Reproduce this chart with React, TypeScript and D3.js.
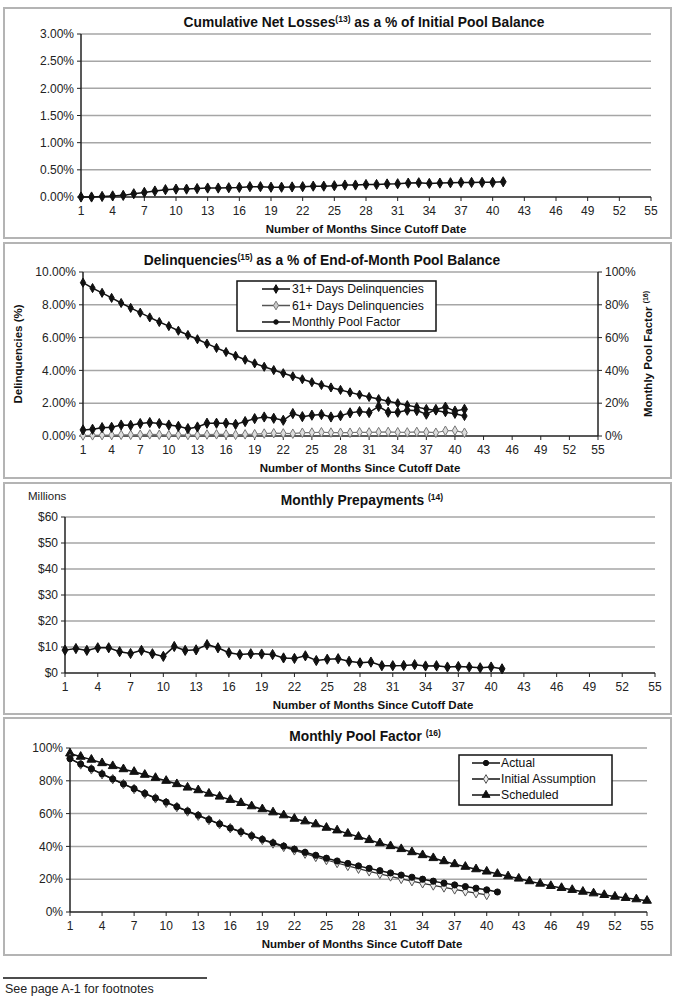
import { useEffect, useRef } from 'react';
import * as d3 from 'd3';

// month tick labels shared by every panel
const monthTicks = [1, 4, 7, 10, 13, 16, 19, 22, 25, 28, 31, 34, 37, 40, 43, 46, 49, 52, 55];

// Cumulative net losses, % of initial pool balance (months 1-41)
const cumNetLoss = [0.0, 0.0, 0.01, 0.02, 0.03, 0.06, 0.085, 0.11, 0.135, 0.145, 0.145, 0.155, 0.165, 0.165, 0.17, 0.177, 0.19, 0.19, 0.18, 0.18, 0.185, 0.19, 0.2, 0.2, 0.207, 0.22, 0.22, 0.23, 0.23, 0.24, 0.244, 0.256, 0.262, 0.25, 0.256, 0.262, 0.268, 0.268, 0.27, 0.27, 0.28];
const lossTicks = [0, 0.5, 1, 1.5, 2, 2.5, 3];

// Delinquencies, % of end-of-month pool balance
const delinq31 = [0.37, 0.41, 0.51, 0.53, 0.67, 0.65, 0.76, 0.82, 0.76, 0.67, 0.59, 0.45, 0.55, 0.78, 0.78, 0.78, 0.71, 0.88, 1.06, 1.16, 1.08, 0.96, 1.37, 1.18, 1.27, 1.31, 1.16, 1.24, 1.41, 1.49, 1.43, 1.8, 1.45, 1.45, 1.57, 1.55, 1.33, 1.62, 1.76, 1.52, 1.63];
const delinq61 = [0.03, 0.04, 0.05, 0.06, 0.07, 0.07, 0.08, 0.1, 0.08, 0.05, 0.07, 0.06, 0.05, 0.09, 0.1, 0.1, 0.07, 0.1, 0.11, 0.15, 0.17, 0.16, 0.14, 0.2, 0.21, 0.23, 0.21, 0.2, 0.2, 0.23, 0.22, 0.24, 0.25, 0.23, 0.22, 0.25, 0.24, 0.2, 0.32, 0.33, 0.2];
const delinqTicks = [0, 2, 4, 6, 8, 10];

// Monthly prepayments, $ millions
const prepayments = [8.8, 9.4, 8.7, 9.7, 9.7, 8.2, 7.5, 8.7, 7.4, 6.4, 10.2, 8.7, 8.9, 10.9, 9.7, 7.8, 7.1, 7.4, 7.3, 7.1, 5.8, 5.6, 6.6, 4.8, 5.3, 5.5, 4.5, 3.9, 4.2, 2.8, 2.8, 2.9, 3.2, 2.7, 2.8, 2.3, 2.5, 2.3, 2.0, 2.3, 1.6];
const prepayTicks = [0, 10, 20, 30, 40, 50, 60];

// Monthly pool factor, %
const poolActual = [93.5, 90.2, 87.3, 84.2, 81.1, 78.1, 75.2, 72.3, 69.5, 67.0, 64.2, 61.6, 59.0, 56.3, 53.7, 51.2, 48.9, 46.5, 44.3, 42.2, 40.2, 38.3, 36.4, 34.6, 32.8, 31.1, 29.6, 28.1, 26.6, 25.2, 23.8, 22.5, 21.2, 20.0, 18.8, 17.6, 16.5, 15.5, 14.5, 13.5, 12.2];
const poolAssumption = [93.5, 90.0, 87.0, 84.0, 81.0, 78.0, 75.0, 72.1, 69.3, 66.6, 64.0, 61.3, 58.7, 56.1, 53.6, 51.1, 48.7, 46.3, 44.0, 41.8, 39.7, 37.6, 35.6, 33.6, 31.7, 29.9, 28.1, 26.4, 24.8, 23.2, 21.7, 20.2, 18.8, 17.5, 16.2, 15.0, 13.8, 12.6, 11.5, 10.4];
const poolScheduled = [96.7, 94.7, 92.9, 90.8, 89.0, 87.1, 85.5, 83.7, 81.8, 80.0, 78.0, 75.9, 74.3, 72.2, 70.4, 68.4, 66.5, 64.5, 62.7, 60.8, 59.0, 56.9, 55.3, 53.5, 51.4, 49.8, 47.8, 45.9, 43.9, 42.0, 40.2, 38.4, 36.5, 34.7, 32.9, 31.0, 29.2, 27.6, 26.1, 24.7, 23.3, 21.8, 20.4, 18.8, 17.3, 15.9, 14.7, 13.5, 12.4, 11.4, 10.4, 9.4, 8.6, 7.8, 6.9];
const poolTicks = [0, 20, 40, 60, 80, 100];

const FONT = "'Liberation Sans', Arial, sans-serif";
const GRID = '#a6a6a6';

export default function App() {
  const svgRef = useRef<SVGSVGElement>(null);

  useEffect(() => {
    if (!svgRef.current) return;
    const svg = d3.select(svgRef.current);
    svg.selectAll('*').remove();
    svg.style('font-family', FONT);

    // one framed chart panel: border, grid, axes, titles
    const panel = (o: any) => {
      svg.append('rect')
        .attr('x', 4).attr('y', o.top).attr('width', 667).attr('height', o.height)
        .attr('fill', 'white').attr('stroke', '#b4b4b4').attr('stroke-width', 2);

      const x = d3.scaleLinear().domain([1, 55]).range([o.left, o.right]);
      const y = d3.scaleLinear().domain(o.yDomain).range([o.bottom, o.plotTop]);

      // gridlines
      svg.append('g').selectAll('line').data(o.yTicks.filter((t: number) => t !== o.yDomain[0]))
        .enter().append('line')
        .attr('x1', o.left).attr('x2', o.right)
        .attr('y1', (d: number) => y(d)).attr('y2', (d: number) => y(d))
        .attr('stroke', GRID).attr('stroke-width', 1.5);

      // y axis
      svg.append('line').attr('x1', o.left).attr('x2', o.left).attr('y1', o.plotTop).attr('y2', o.bottom)
        .attr('stroke', '#222').attr('stroke-width', 1.5);
      const yl = svg.append('g');
      o.yTicks.forEach((t: number) => {
        yl.append('line').attr('x1', o.left - 4).attr('x2', o.left).attr('y1', y(t)).attr('y2', y(t))
          .attr('stroke', '#222');
        yl.append('text').attr('x', o.left - 7).attr('y', y(t)).attr('dy', '0.35em')
          .attr('text-anchor', 'end').attr('font-size', '12px').attr('fill', '#222')
          .text(o.yFormat(t));
      });

      // x axis
      svg.append('line').attr('x1', o.left).attr('x2', o.right).attr('y1', o.bottom).attr('y2', o.bottom)
        .attr('stroke', '#222').attr('stroke-width', 1.5);
      const xl = svg.append('g');
      monthTicks.forEach(m => {
        xl.append('line').attr('x1', x(m)).attr('x2', x(m)).attr('y1', o.bottom).attr('y2', o.bottom + 4)
          .attr('stroke', '#222');
        xl.append('text').attr('x', x(m)).attr('y', o.bottom + 18)
          .attr('text-anchor', 'middle').attr('font-size', '12px').attr('fill', '#222')
          .text(m);
      });
      svg.append('text').attr('x', o.xTitleX).attr('y', o.bottom + 36)
        .attr('text-anchor', 'middle').attr('font-size', '11.5px').attr('font-weight', 'bold')
        .attr('fill', '#111').text('Number of Months Since Cutoff Date');

      // chart title with superscript footnote
      const t = svg.append('text').attr('x', o.titleX).attr('y', o.titleY)
        .attr('text-anchor', 'middle').attr('font-size', '13.8px').attr('font-weight', 'bold').attr('fill', '#111');
      t.append('tspan').text(o.title[0]);
      t.append('tspan').attr('font-size', '8.5px').attr('dy', -5).text(o.title[1]);
      t.append('tspan').attr('dy', 5).text(o.title[2]);

      return { x, y };
    };

    const series = (x: any, y: any, values: number[], opt: any) => {
      const pts = values.map((v, i) => [x(i + 1), y(v)] as [number, number]);
      svg.append('path').attr('d', d3.line()(pts)).attr('fill', 'none')
        .attr('stroke', opt.stroke).attr('stroke-width', opt.width || 1.5);
      const sym = d3.symbol().type(opt.symbol).size(opt.size);
      svg.append('g').selectAll('path').data(pts).enter().append('path')
        .attr('transform', d => `translate(${d[0]},${d[1]})`)
        .attr('d', sym() as string)
        .attr('fill', opt.fill).attr('stroke', opt.markStroke || opt.fill).attr('stroke-width', 1);
    };

    const legend = (lx: number, ly: number, w: number, h: number, items: any[], lineX: number, textX: number, rowY: number[]) => {
      svg.append('rect').attr('x', lx).attr('y', ly).attr('width', w).attr('height', h)
        .attr('fill', 'white').attr('stroke', '#111').attr('stroke-width', 1.5);
      items.forEach((it, i) => {
        svg.append('line').attr('x1', lineX).attr('x2', lineX + 28).attr('y1', rowY[i]).attr('y2', rowY[i])
          .attr('stroke', it.stroke).attr('stroke-width', 1.5);
        svg.append('path').attr('transform', `translate(${lineX + 14},${rowY[i]})`)
          .attr('d', d3.symbol().type(it.symbol).size(it.size)() as string)
          .attr('fill', it.fill).attr('stroke', it.markStroke || it.fill);
        svg.append('text').attr('x', textX).attr('y', rowY[i]).attr('dy', '0.35em')
          .attr('font-size', '12.2px').attr('fill', '#111').text(it.label);
      });
    };

    const pct2 = (v: number) => `${v.toFixed(2)}%`;

    // Panel 1: cumulative net losses
    const p1 = panel({
      top: 8, height: 230, left: 81, right: 651, plotTop: 34, bottom: 197,
      yDomain: [0, 3], yTicks: lossTicks, yFormat: pct2,
      title: ['Cumulative Net Losses', '(13)', ' as a % of Initial Pool Balance'], titleX: 364, titleY: 27,
      xTitleX: 366,
    });
    series(p1.x, p1.y, cumNetLoss, { stroke: '#111', symbol: d3.symbolDiamond, size: 30, fill: '#111' });

    // Panel 2: delinquencies with pool factor on right axis
    const p2 = panel({
      top: 243, height: 235, left: 83, right: 598, plotTop: 272, bottom: 436,
      yDomain: [0, 10], yTicks: delinqTicks, yFormat: pct2,
      title: ['Delinquencies', '(15)', ' as a % of End-of-Month Pool Balance'], titleX: 322, titleY: 265,
      xTitleX: 360,
    });
    const yRight = d3.scaleLinear().domain([0, 100]).range([436, 272]);
    svg.append('line').attr('x1', 598).attr('x2', 598).attr('y1', 272).attr('y2', 436)
      .attr('stroke', '#222').attr('stroke-width', 1.5);
    poolTicks.forEach(t => {
      svg.append('line').attr('x1', 598).attr('x2', 602).attr('y1', yRight(t)).attr('y2', yRight(t)).attr('stroke', '#222');
      svg.append('text').attr('x', 605).attr('y', yRight(t)).attr('dy', '0.35em')
        .attr('font-size', '12px').attr('fill', '#222').text(`${t}%`);
    });
    svg.append('text').attr('transform', 'translate(22,354) rotate(-90)').attr('text-anchor', 'middle')
      .attr('font-size', '11.5px').attr('font-weight', 'bold').attr('fill', '#111').text('Delinquencies (%)');
    const rt = svg.append('text').attr('transform', 'translate(652,354) rotate(-90)').attr('text-anchor', 'middle')
      .attr('font-size', '11.5px').attr('font-weight', 'bold').attr('fill', '#111');
    rt.append('tspan').text('Monthly Pool Factor ');
    rt.append('tspan').attr('font-size', '7px').attr('dy', -4).text('(16)');

    series(p2.x, yRight, poolActual, { stroke: '#111', symbol: d3.symbolDiamond, size: 24, fill: '#111' });
    series(p2.x, p2.y, delinq61, { stroke: '#777', symbol: d3.symbolDiamond, size: 26, fill: '#ddd', markStroke: '#777', width: 1.2 });
    series(p2.x, p2.y, delinq31, { stroke: '#111', symbol: d3.symbolDiamond, size: 30, fill: '#111' });
    legend(237, 281, 199, 50, [
      { label: '31+ Days Delinquencies', stroke: '#111', symbol: d3.symbolDiamond, size: 22, fill: '#111' },
      { label: '61+ Days Delinquencies', stroke: '#555', symbol: d3.symbolDiamond, size: 22, fill: '#ccc', markStroke: '#777' },
      { label: 'Monthly Pool Factor', stroke: '#111', symbol: d3.symbolCircle, size: 16, fill: '#111' },
    ], 262, 292, [289, 305.5, 322]);

    // Panel 3: monthly prepayments
    const p3 = panel({
      top: 483, height: 231, left: 65, right: 655, plotTop: 517, bottom: 673,
      yDomain: [0, 60], yTicks: prepayTicks, yFormat: (v: number) => `$${v}`,
      title: ['Monthly Prepayments ', '(14)', ''], titleX: 362, titleY: 505,
      xTitleX: 373,
    });
    svg.append('text').attr('x', 28).attr('y', 500).attr('font-size', '11.5px').attr('fill', '#222').text('Millions');
    series(p3.x, p3.y, prepayments, { stroke: '#111', symbol: d3.symbolDiamond, size: 30, fill: '#111' });

    // Panel 4: monthly pool factor
    const p4 = panel({
      top: 718, height: 237, left: 70, right: 647, plotTop: 748, bottom: 912,
      yDomain: [0, 100], yTicks: poolTicks, yFormat: (v: number) => `${v}%`,
      title: ['Monthly Pool Factor ', '(16)', ''], titleX: 365, titleY: 741,
      xTitleX: 362,
    });
    series(p4.x, p4.y, poolScheduled, { stroke: '#111', symbol: d3.symbolTriangle, size: 34, fill: '#111' });
    series(p4.x, p4.y, poolAssumption, { stroke: '#333', symbol: d3.symbolDiamond, size: 26, fill: '#eee', markStroke: '#555', width: 1.2 });
    series(p4.x, p4.y, poolActual, { stroke: '#111', symbol: d3.symbolCircle, size: 30, fill: '#111' });
    legend(459, 755, 153, 50, [
      { label: 'Actual', stroke: '#111', symbol: d3.symbolCircle, size: 22, fill: '#111' },
      { label: 'Initial Assumption', stroke: '#111', symbol: d3.symbolDiamond, size: 22, fill: '#eee', markStroke: '#555' },
      { label: 'Scheduled', stroke: '#111', symbol: d3.symbolTriangle, size: 28, fill: '#111' },
    ], 472, 501, [763, 779, 795]);

    // footnote
    svg.append('line').attr('x1', 3).attr('x2', 207).attr('y1', 978).attr('y2', 978).attr('stroke', '#111').attr('stroke-width', 1.5);
    svg.append('text').attr('x', 5).attr('y', 993).attr('font-size', '12.5px').attr('fill', '#222')
      .text('See page A-1 for footnotes');
  }, []);

  return (
    <svg ref={svgRef} width={676} height={1000}
      style={{ position: 'absolute', left: 0, top: 0, background: 'white' }} />
  );
}
